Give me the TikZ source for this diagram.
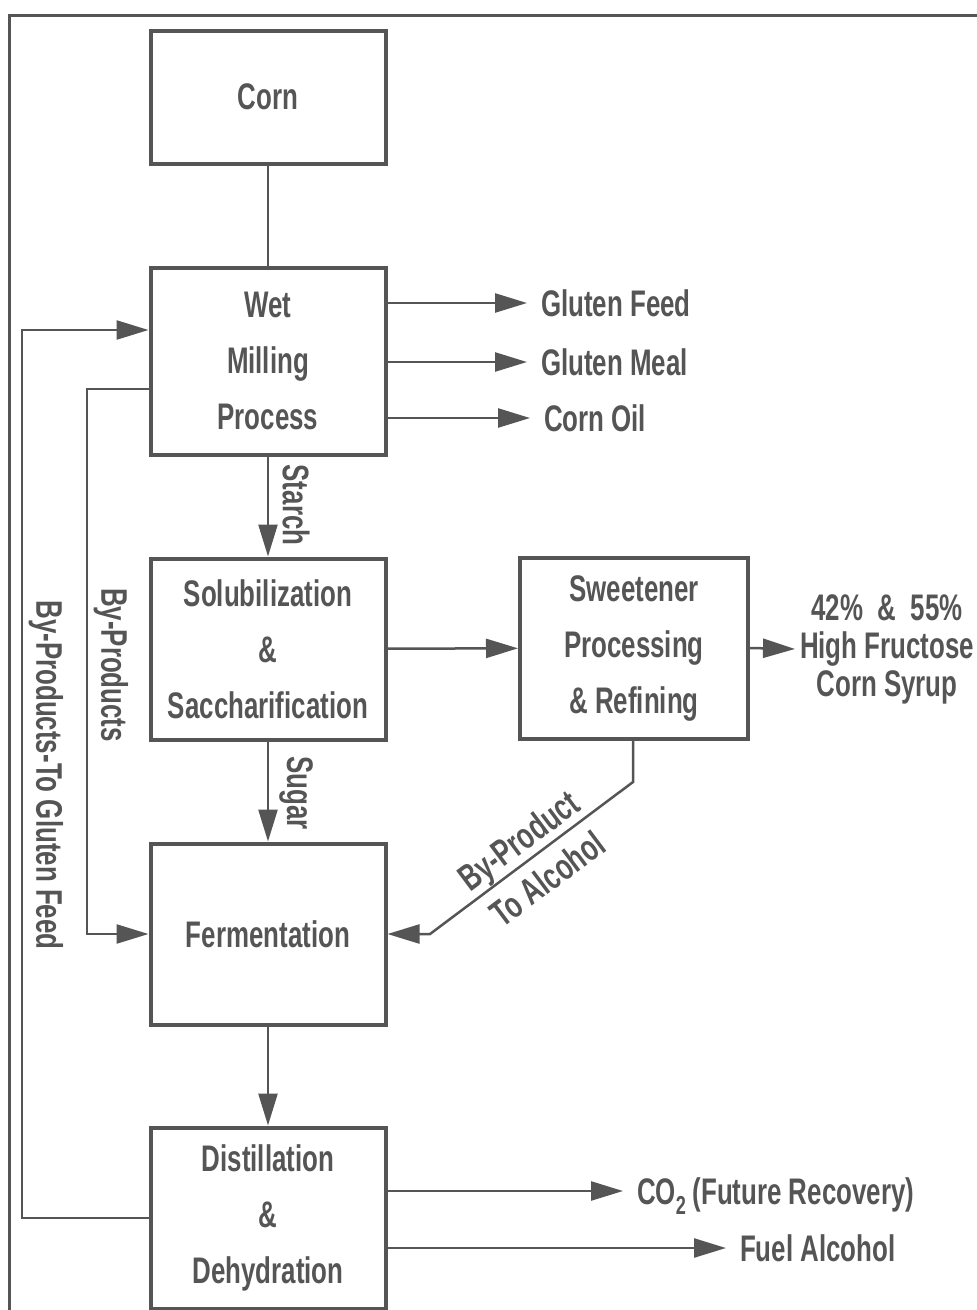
\documentclass[tikz,border=0pt]{standalone}
\usepackage{fontspec}
\setmainfont{Liberation Sans}[FakeStretch=0.70]
\usetikzlibrary{arrows.meta}
\definecolor{ink}{RGB}{85,85,85}

\begin{document}
\begin{tikzpicture}[x=1pt,y=-1pt,>={Triangle[length=32pt,width=19pt]},
  every node/.style={text=ink,font=\fontsize{37}{56}\selectfont\bfseries},
  box/.style={draw=ink,line width=4pt,minimum width=235pt,minimum height=181pt,
    inner sep=0pt,align=center},
  flow/.style={draw=ink,line width=2.5pt,->},
  product/.style={anchor=west,inner sep=0pt,outer sep=14pt,text height=27pt,text depth=0pt},
  lbl/.style={inner sep=0pt,rotate=-90}]
  \useasboundingbox (0,0) rectangle (977,1310);
  % frame of the figure, only its top and left edges are in view
  \draw[ink,line width=3pt] (9,1310) |- (977,15);
  % main column of process boxes
  \node[box,minimum height=133pt] (corn) at (268,97) {Corn};
  \node[box,minimum height=187pt] (wet) at (268,361) {Wet\\Milling\\Process};
  \node[box] (sol) at (268,649) {Solubilization\\\&\\Saccharification};
  \node[box,minimum width=228pt] (sweet) at (634,648) {Sweetener\\Processing\\\& Refining};
  \node[box] (ferm) at (268,934) {Fermentation};
  \node[box] (dist) at (268,1218) {Distillation\\\&\\Dehydration};
  % products leaving the process
  \node[product] (feed) at (527,303) {Gluten Feed};
  \node[product] (meal) at (527,362) {Gluten Meal};
  \node[product] (oil) at (530,418) {Corn Oil};
  \node[anchor=west,inner sep=0pt,outer sep=5pt,align=center,
    font=\fontsize{37}{38}\selectfont\bfseries] (hfcs) at (795,649)
    {42\%\ \ \&\ \ 55\%\\High Fructose\\Corn Syrup};
  \node[product] (co2) at (623,1191) {CO\textsubscript{2}\,(Future Recovery)};
  \node[product] (fuel) at (726,1248) {Fuel Alcohol};
  % main flow
  \draw[ink,line width=2.5pt] (corn) -- (wet);
  \draw[flow] (wet) -- (sol);
  \draw[flow] (sol) -- (ferm);
  \draw[flow] (ferm) -- (dist);
  \draw[flow] (sol) -- (sweet);
  \draw[flow] (sweet.east) -- (hfcs.west);
  \foreach \p in {feed,meal,oil} \draw[flow] (wet.east |- \p) -- (\p);
  \foreach \p in {co2,fuel} \draw[flow] (dist.east |- \p) -- (\p);
  \node[lbl] (starch) at (296,505) {Starch};
  \node[lbl] (sugar) at (296,793) {Sugar};
  % by-product from the sweetener line back to fermentation
  \coordinate (bend) at (633,782);
  \coordinate (kink) at (430,934);
  \draw[flow] (sweet.south -| bend) -- (bend)
    -- node[sloped,align=center,inner sep=0pt,yshift=-2pt,
      font=\fontsize{37}{48}\selectfont\bfseries]
      {By-Product\\To Alcohol} (kink) -- (ferm.east);
  % return loops on the left
  \coordinate (bp) at (87,389);
  \draw[flow] (wet.west |- bp) -- (bp) |- (ferm.west);
  \node[lbl] (bptext) at (111,665) {By-Products};
  \coordinate (gl) at (22,330);
  \draw[flow] (dist.west) -| (gl) -- (wet.west |- gl);
  \node[lbl] (gltext) at (46,775) {By-Products-To Gluten Feed};
\end{tikzpicture}
\end{document}
